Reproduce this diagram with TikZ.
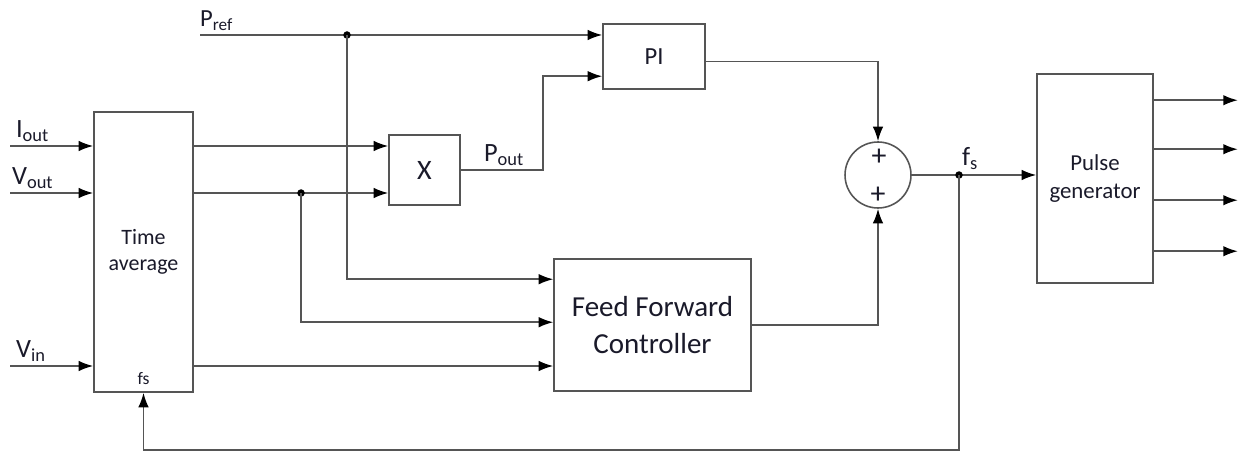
\documentclass[tikz,border=0pt]{standalone}
\usepackage{fontspec}
\setmainfont{Carlito}
\usepackage{tikz}
\usetikzlibrary{arrows.meta,positioning,calc}
\definecolor{Wire}{HTML}{555555}
\definecolor{Ink}{HTML}{1A1A2A}

\begin{document}
\begin{tikzpicture}[x=0.02cm, y=-0.02cm, >={Latex[length=2.9mm,width=2.1mm,color=black]},
    every node/.style={text=Ink},
    blk/.style={draw=Wire, line width=0.9pt, fill=white, inner sep=0pt},
    wire/.style={draw=Wire, line width=0.9pt},
    jdot/.style={circle, fill=black, inner sep=0pt, minimum size=1.5mm}]
  \useasboundingbox (0,0) rectangle (1240,452);
  % blocks
  \node[blk, minimum width=1.98cm, minimum height=5.6cm, font=\fontsize{12.5}{15}\selectfont, align=center] (tavg) at (143.5,252) {Time\\average};
  \node[blk, minimum width=1.42cm, minimum height=1.4cm, font=\fontsize{16}{19}\selectfont] (mult) at (424.5,170) {X};
  \node[blk, minimum width=2.04cm, minimum height=1.3cm, font=\fontsize{14}{17}\selectfont] (pi) at (654,56.5) {PI};
  \node[blk, circle, minimum size=1.32cm] (sum) at (878,175) {};
  \node[blk, minimum width=3.94cm, minimum height=2.64cm, font=\fontsize{16.5}{21}\selectfont, align=center] (ff) at (652.5,325) {Feed Forward\\Controller};
  \node[blk, minimum width=2.32cm, minimum height=4.18cm, font=\fontsize{13}{15.5}\selectfont, align=center] (pg) at (1095,178.5) {Pulse\\generator};
  \node[font=\fontsize{17}{19}\selectfont] (plusa) at (879,157) {+};
  \node[font=\fontsize{17}{19}\selectfont] (plusb) at (878,195) {+};
  \node[font=\fontsize{10}{12}\selectfont] (fsin) at ($(tavg.south)+(0,-14)$) {fs};

  % inputs
  \coordinate (iin) at (10,146);
  \coordinate (vin) at (10,193);
  \coordinate (vinn) at (10,366);
  \coordinate (pref) at (200,35);
  \node[font=\fontsize{15}{18}\selectfont, anchor=south west, inner sep=1pt] (lio) at (14,144) {I\textsubscript{out}};
  \node[font=\fontsize{15}{18}\selectfont, anchor=south west, inner sep=1pt] (lvo) at (10,191) {V\textsubscript{out}};
  \node[font=\fontsize{15}{18}\selectfont, anchor=south west, inner sep=1pt] (lvi) at (14,364) {V\textsubscript{in}};
  \node[font=\fontsize{14}{17}\selectfont, anchor=south west, inner sep=1pt] (lpr) at (198,33) {P\textsubscript{ref}};
  \draw[wire, ->] (iin) -- (iin -| tavg.west);
  \draw[wire, ->] (vin) -- (vin -| tavg.west);
  \draw[wire, ->] (vinn) -- (vinn -| tavg.west);

  % time average outputs
  \draw[wire, ->] (tavg.east |- iin) -- (mult.west |- iin);
  \draw[wire, ->] (tavg.east |- vin) -- (mult.west |- vin);
  \draw[wire, ->] (tavg.east |- vinn) -- (ff.west |- vinn);
  \coordinate (vj) at (301,193);
  \node[jdot] (vjd) at (vj) {};
  \draw[wire, ->] (vj) |- ($(ff.north west)+(0,64)$);

  % reference power
  \coordinate (pj) at (347,35);
  \draw[wire, ->] (pref) -- (pi.west |- pref);
  \node[jdot] (pjd) at (pj) {};
  \draw[wire, ->] (pj) |- ($(ff.north west)+(0,21)$);

  % measured power
  \draw[wire, ->] (mult.east) -- ++(82,0) |- ($(pi.north west)+(0,53)$);
  \node[font=\fontsize{15}{18}\selectfont, anchor=south west, inner sep=1pt] (lpo) at (482,168) {P\textsubscript{out}};

  % summing
  \draw[wire, ->] ($(pi.east)+(0,5)$) -| (sum.north);
  \draw[wire, ->] (ff.east) -| (sum.south);
  \draw[wire, ->] (sum.east) -- (sum.east -| pg.west);
  \coordinate (fj) at (959,175);
  \node[jdot] (fjd) at (fj) {};
  \node[font=\fontsize{15}{18}\selectfont, anchor=south west, inner sep=1pt] (lfs) at (960,172) {f\textsubscript{s}};

  % feedback of fs
  \coordinate (fb) at (959,450);
  \draw[wire, ->] (fj) -- (fb) -| (tavg.south);

  % gate signals
  \foreach \dy in {27,76,127,178}
    \draw[wire, ->] ($(pg.north east)+(0,\dy)$) -- ++(84,0);
\end{tikzpicture}
\end{document}
